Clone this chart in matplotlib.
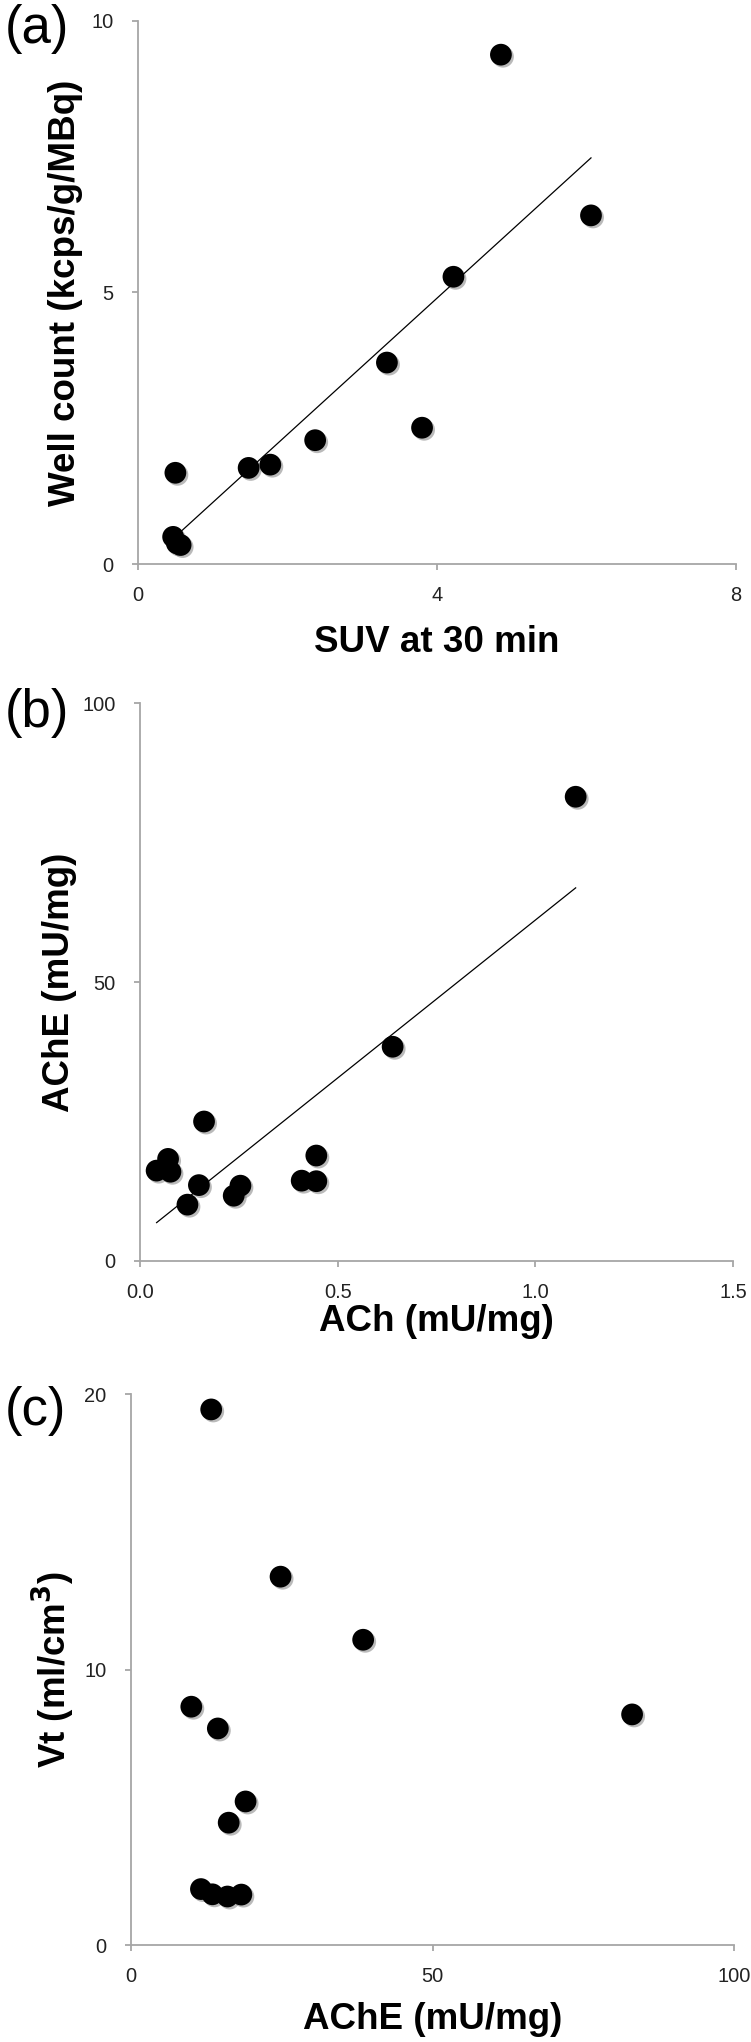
import numpy as np
import matplotlib
matplotlib.use("Agg")
import matplotlib.pyplot as plt
import matplotlib.patheffects as pe

plt.rcParams['font.family'] = ['Liberation Sans', 'DejaVu Sans']

# ---- data ----
suv_30min = [4.855, 6.06, 4.22, 3.33, 3.80, 2.37, 1.48, 1.77, 0.50, 0.47, 0.52, 0.57]
well_count = [9.38, 6.42, 5.29, 3.71, 2.51, 2.28, 1.77, 1.83, 1.68, 0.50, 0.38, 0.35]

ach_b = [1.102, 0.639, 0.162, 0.071, 0.042, 0.077, 0.149, 0.120, 0.237, 0.254, 0.409, 0.446, 0.446]
ache_b = [83.2, 38.4, 25.0, 18.3, 16.2, 16.0, 13.6, 10.1, 11.7, 13.5, 14.4, 14.3, 18.9]

ache_c = [13.3, 24.8, 38.5, 83.1, 10.0, 14.4, 19.0, 16.2, 11.6, 13.5, 16.0, 18.3]
vt_c = [19.44, 13.37, 11.08, 8.37, 8.65, 7.86, 5.21, 4.44, 2.03, 1.84, 1.76, 1.83]

a_xticks = [0, 4, 8]
a_yticks = [0, 5, 10]
b_xticks = [0.0, 0.5, 1.0, 1.5]
b_xticklabels = ['0.0', '0.5', '1.0', '1.5']
b_yticks = [0, 50, 100]
c_xticks = [0, 50, 100]
c_yticks = [0, 10, 20]

W, H = 751, 2042
fig = plt.figure(figsize=(W / 100, H / 100), dpi=100)

SPINE = '#a6a6a6'


def make_axes(left, right, top, bottom):
    return fig.add_axes([left / W, (H - bottom) / H, (right - left) / W, (bottom - top) / H])


def style(ax, xticks, yticks, xlabels=None):
    for s in ['top', 'right']:
        ax.spines[s].set_visible(False)
    for s in ['left', 'bottom']:
        ax.spines[s].set_color(SPINE)
        ax.spines[s].set_linewidth(1.3)
    ax.set_xticks(xticks)
    if xlabels is not None:
        ax.set_xticklabels(xlabels)
    ax.set_yticks(yticks)
    ax.set_xlim(xticks[0], xticks[-1])
    ax.set_ylim(yticks[0], yticks[-1])
    ax.tick_params(axis='both', direction='out', length=4.5, width=1.3, color=SPINE,
                   labelsize=14.4, labelcolor='#222222')
    ax.tick_params(axis='x', pad=11)
    ax.tick_params(axis='y', pad=13)


def scatter(ax, x, y):
    sc = ax.scatter(x, y, s=245, color='black', zorder=3, clip_on=False,
                    linewidths=0)
    sc.set_path_effects([pe.SimplePatchShadow(offset=(1.5, -1.5), shadow_rgbFace='#777777', alpha=0.5),
                         pe.Normal()])


def trend(ax, x, y):
    x = np.asarray(x)
    y = np.asarray(y)
    m, b = np.polyfit(x, y, 1)
    xs = np.array([x.min(), x.max()])
    ax.plot(xs, m * xs + b, color='black', linewidth=0.9, zorder=4)


LABEL_FS = 26.5

# ---- panel (a) ----
ax1 = make_axes(138, 736, 21, 564)
style(ax1, a_xticks, a_yticks)
scatter(ax1, suv_30min, well_count)
trend(ax1, suv_30min, well_count)
ax1.set_xlabel('SUV at 30 min', fontsize=LABEL_FS, fontweight='bold')
ax1.set_ylabel('Well count (kcps/g/MBq)', fontsize=LABEL_FS, fontweight='bold')
ax1.xaxis.set_label_coords(0.5, -(625 - 564) / 543)
ax1.yaxis.set_label_coords(-(138 - 83) / 598, 0.5)

# ---- panel (b) ----
ax2 = make_axes(140, 733, 703, 1261)
style(ax2, b_xticks, b_yticks, b_xticklabels)
scatter(ax2, ach_b, ache_b)
trend(ax2, ach_b, ache_b)
ax2.set_xlabel('ACh (mU/mg)', fontsize=LABEL_FS, fontweight='bold')
ax2.set_ylabel('AChE (mU/mg)', fontsize=LABEL_FS, fontweight='bold')
ax2.xaxis.set_label_coords(0.5, -(1304 - 1261) / 558)
ax2.yaxis.set_label_coords(-(140 - 77) / 593, 0.5)

# ---- panel (c) ----
ax3 = make_axes(131, 734, 1394, 1945)
style(ax3, c_xticks, c_yticks)
scatter(ax3, ache_c, vt_c)
ax3.set_xlabel('AChE (mU/mg)', fontsize=LABEL_FS, fontweight='bold')
ax3.set_ylabel('Vt (ml/cm$^\\mathbf{3}$)', fontsize=LABEL_FS, fontweight='bold')
ax3.xaxis.set_label_coords(0.5, -(2002 - 1945) / 551)
ax3.yaxis.set_label_coords(-(131 - 77) / 603, 0.5)

# panel letters
for lab, top in [('(a)', 4), ('(b)', 688), ('(c)', 1386)]:
    fig.text(5 / W, 1 - top / H, lab, fontsize=38, ha='left', va='top')

fig.savefig('out.png', dpi=100)
